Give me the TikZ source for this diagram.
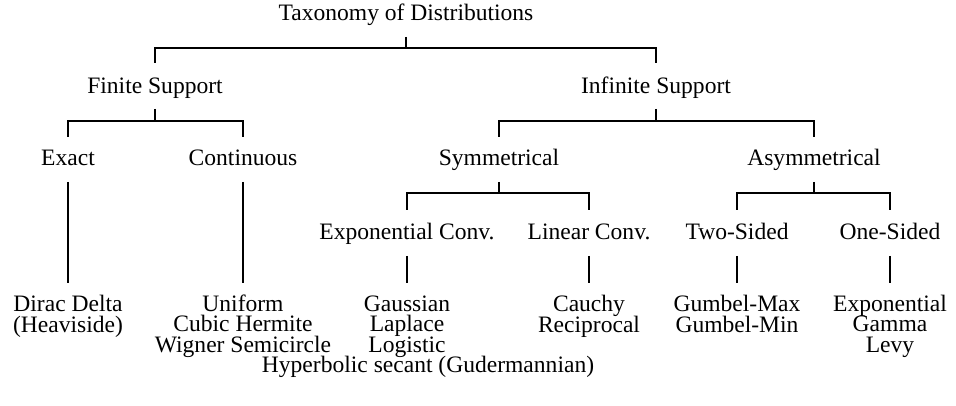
\documentclass[tikz,border=0pt]{standalone}
\usepackage{fontspec}
\setmainfont{Liberation Serif}
\usetikzlibrary{backgrounds}
\pgfdeclarelayer{edgelayer}
\pgfdeclarelayer{nodelayer}
\pgfsetlayers{edgelayer,nodelayer,main}
\setlength{\lineskiplimit}{-20pt}
\tikzset{font=\fontsize{13.4}{11.4}\selectfont}
\tikzstyle{none}=[inner sep=0pt]
\tikzstyle{txt}=[inner sep=0pt,anchor=base,align=center]
\tikzstyle{tree}=[line width=0.6pt]

\begin{document}
\begin{tikzpicture}
	\useasboundingbox (0,0) rectangle (19.12,-8.12);
	\begin{pgfonlayer}{nodelayer}
		\node [style=txt] (0) at (8.12, -0.42) {Taxonomy of Distributions};
		\node [style=txt] (1) at (3.10, -1.88) {Finite Support};
		\node [style=txt] (2) at (13.12, -1.88) {Infinite Support};
		\node [style=txt] (3) at (1.36, -3.32) {Exact};
		\node [style=txt] (4) at (4.86, -3.32) {Continuous};
		\node [style=txt] (5) at (9.98, -3.32) {Symmetrical};
		\node [style=txt] (6) at (16.28, -3.32) {Asymmetrical};
		\node [style=txt] (7) at (8.14, -4.78) {Exponential Conv.};
		\node [style=txt] (8) at (11.78, -4.78) {Linear Conv.};
		\node [style=txt] (9) at (14.74, -4.78) {Two-Sided};
		\node [style=txt] (10) at (17.80, -4.78) {One-Sided};
		\node [style=txt] (11) at (1.36, -6.64) {Dirac Delta\\(Heaviside)};
		\node [style=txt] (12) at (4.86, -7.04) {Uniform\\Cubic Hermite\\Wigner Semicircle};
		\node [style=txt] (13) at (8.14, -7.04) {Gaussian\\Laplace\\Logistic};
		\node [style=txt] (14) at (11.78, -6.64) {Cauchy\\Reciprocal};
		\node [style=txt] (15) at (14.74, -6.64) {Gumbel-Max\\Gumbel-Min};
		\node [style=txt] (16) at (17.80, -7.04) {Exponential\\Gamma\\Levy};
		\node [style=txt] (17) at (8.56, -7.44) {Hyperbolic secant (Gudermannian)};
		\node [style=none] (20) at (8.12, -0.74) {};
		\node [style=none] (21) at (8.12, -0.96) {};
		\node [style=none] (22) at (3.10, -1.26) {};
		\node [style=none] (23) at (13.12, -1.26) {};
		\node [style=none] (24) at (3.10, -2.18) {};
		\node [style=none] (25) at (3.10, -2.42) {};
		\node [style=none] (26) at (1.36, -2.74) {};
		\node [style=none] (27) at (4.86, -2.74) {};
		\node [style=none] (28) at (13.12, -2.18) {};
		\node [style=none] (29) at (13.12, -2.42) {};
		\node [style=none] (30) at (9.98, -2.74) {};
		\node [style=none] (31) at (16.28, -2.74) {};
		\node [style=none] (32) at (1.36, -3.64) {};
		\node [style=none] (33) at (1.36, -5.66) {};
		\node [style=none] (34) at (4.86, -3.64) {};
		\node [style=none] (35) at (4.86, -5.66) {};
		\node [style=none] (36) at (9.98, -3.64) {};
		\node [style=none] (37) at (9.98, -3.86) {};
		\node [style=none] (38) at (8.14, -4.20) {};
		\node [style=none] (39) at (11.78, -4.20) {};
		\node [style=none] (40) at (16.28, -3.64) {};
		\node [style=none] (41) at (16.28, -3.86) {};
		\node [style=none] (42) at (14.74, -4.20) {};
		\node [style=none] (43) at (17.80, -4.20) {};
		\node [style=none] (44) at (8.14, -5.12) {};
		\node [style=none] (45) at (8.14, -5.66) {};
		\node [style=none] (46) at (11.78, -5.12) {};
		\node [style=none] (47) at (11.78, -5.66) {};
		\node [style=none] (48) at (14.74, -5.12) {};
		\node [style=none] (49) at (14.74, -5.66) {};
		\node [style=none] (50) at (17.80, -5.12) {};
		\node [style=none] (51) at (17.80, -5.66) {};
	\end{pgfonlayer}
	\begin{pgfonlayer}{edgelayer}
		\draw [style=tree] (20.center) to (21.center);
		\draw [style=tree] (21.center) -| (22.center);
		\draw [style=tree] (21.center) -| (23.center);
		\draw [style=tree] (24.center) to (25.center);
		\draw [style=tree] (25.center) -| (26.center);
		\draw [style=tree] (25.center) -| (27.center);
		\draw [style=tree] (28.center) to (29.center);
		\draw [style=tree] (29.center) -| (30.center);
		\draw [style=tree] (29.center) -| (31.center);
		\draw [style=tree] (32.center) to (33.center);
		\draw [style=tree] (34.center) to (35.center);
		\draw [style=tree] (36.center) to (37.center);
		\draw [style=tree] (37.center) -| (38.center);
		\draw [style=tree] (37.center) -| (39.center);
		\draw [style=tree] (40.center) to (41.center);
		\draw [style=tree] (41.center) -| (42.center);
		\draw [style=tree] (41.center) -| (43.center);
		\draw [style=tree] (44.center) to (45.center);
		\draw [style=tree] (46.center) to (47.center);
		\draw [style=tree] (48.center) to (49.center);
		\draw [style=tree] (50.center) to (51.center);
	\end{pgfonlayer}
\end{tikzpicture}
\end{document}
